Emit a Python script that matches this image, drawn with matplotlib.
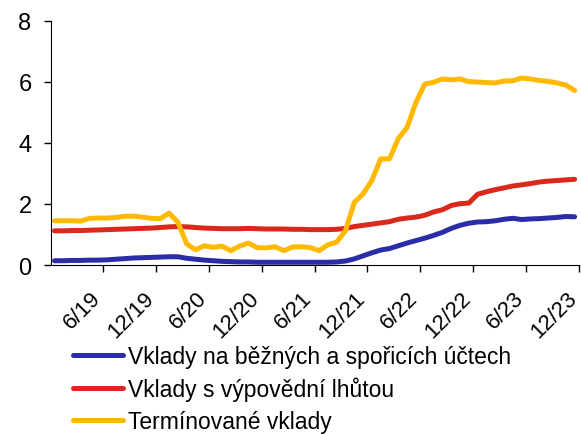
import matplotlib.pyplot as plt
import matplotlib.transforms as mtransforms
import numpy as np

plt.rcParams['font.family'] = ['Liberation Sans', 'DejaVu Sans']

# monthly data, 1/2019 - 12/2023
bezne = [0.14, 0.14, 0.15, 0.15, 0.16, 0.16, 0.17, 0.19, 0.21, 0.23, 0.24, 0.25,
         0.26, 0.27, 0.27, 0.22, 0.19, 0.16, 0.14, 0.12, 0.11, 0.10, 0.10, 0.09,
         0.09, 0.09, 0.09, 0.09, 0.09, 0.09, 0.09, 0.09, 0.10, 0.13, 0.20, 0.30,
         0.40, 0.49, 0.54, 0.63, 0.72, 0.80, 0.88, 0.97, 1.07, 1.20, 1.30, 1.37,
         1.41, 1.42, 1.45, 1.50, 1.53, 1.49, 1.51, 1.52, 1.54, 1.56, 1.59, 1.58]
vypovedni = [1.12, 1.12, 1.13, 1.13, 1.14, 1.15, 1.16, 1.17, 1.18, 1.19, 1.20, 1.21,
             1.23, 1.25, 1.26, 1.25, 1.23, 1.21, 1.20, 1.19, 1.19, 1.19, 1.20, 1.19,
             1.18, 1.18, 1.18, 1.17, 1.17, 1.16, 1.16, 1.16, 1.17, 1.20, 1.26, 1.30,
             1.34, 1.38, 1.42, 1.50, 1.54, 1.57, 1.63, 1.74, 1.81, 1.95, 2.01, 2.03,
             2.32, 2.40, 2.47, 2.53, 2.59, 2.63, 2.67, 2.72, 2.75, 2.77, 2.79, 2.81]
terminovane = [1.45, 1.45, 1.45, 1.44, 1.53, 1.54, 1.54, 1.56, 1.60, 1.60, 1.57, 1.53,
               1.52, 1.70, 1.40, 0.69, 0.50, 0.63, 0.58, 0.62, 0.47, 0.62, 0.72, 0.57,
               0.56, 0.60, 0.47, 0.59, 0.60, 0.57, 0.47, 0.66, 0.75, 1.12, 2.05, 2.33,
               2.77, 3.48, 3.48, 4.15, 4.51, 5.33, 5.93, 5.99, 6.10, 6.07, 6.10, 6.01,
               6.00, 5.98, 5.97, 6.03, 6.04, 6.13, 6.10, 6.05, 6.02, 5.97, 5.90, 5.72]
tick_labels = ['6/19', '12/19', '6/20', '12/20', '6/21', '12/21',
               '6/22', '12/22', '6/23', '12/23']
names = ['Vklady na běžných a spořicích účtech', 'Vklady s výpovědní lhůtou',
         'Termínované vklady']

x = np.arange(len(bezne))

fig = plt.figure(figsize=(5.81, 4.35), dpi=100)
ax = fig.add_axes([0.0878, 0.3885, 0.9088, 0.561])

ax.plot(x, bezne, color='#2A2CA8', lw=3.6, label=names[0], solid_capstyle='round')
ax.plot(x, vypovedni, color='#DA291C', lw=3.6, label=names[1], solid_capstyle='round')
ax.plot(x, terminovane, color='#FFB900', lw=3.6, label=names[2], solid_capstyle='round')

ax.set_xlim(-0.4, 59.5)
ax.set_ylim(0, 8)
ax.set_yticks([0, 2, 4, 6, 8])
ax.set_xticks(np.arange(5.5, 60, 6))
ax.set_xticklabels(tick_labels, rotation=45, ha='right', va='top',
                   rotation_mode='anchor')
ax.tick_params(axis='y', direction='out', length=5, width=1, labelsize=17, pad=9)
ax.tick_params(axis='x', direction='out', length=5, width=1, labelsize=16, pad=11)
# pull the rotated labels back so they end at the tick
shift = mtransforms.ScaledTranslation(-0.13, 0.0, fig.dpi_scale_trans)
for lab in ax.get_xticklabels():
    lab.set_transform(lab.get_transform() + shift)
for s in ['top', 'right']:
    ax.spines[s].set_visible(False)

fig.legend(loc='upper left', bbox_to_anchor=(0.125, 0.205), frameon=False,
           fontsize=16.5, handlelength=2.2, handletextpad=0.2, labelspacing=0.38,
           borderaxespad=0, borderpad=0)

fig.savefig('out.png', dpi=100)
